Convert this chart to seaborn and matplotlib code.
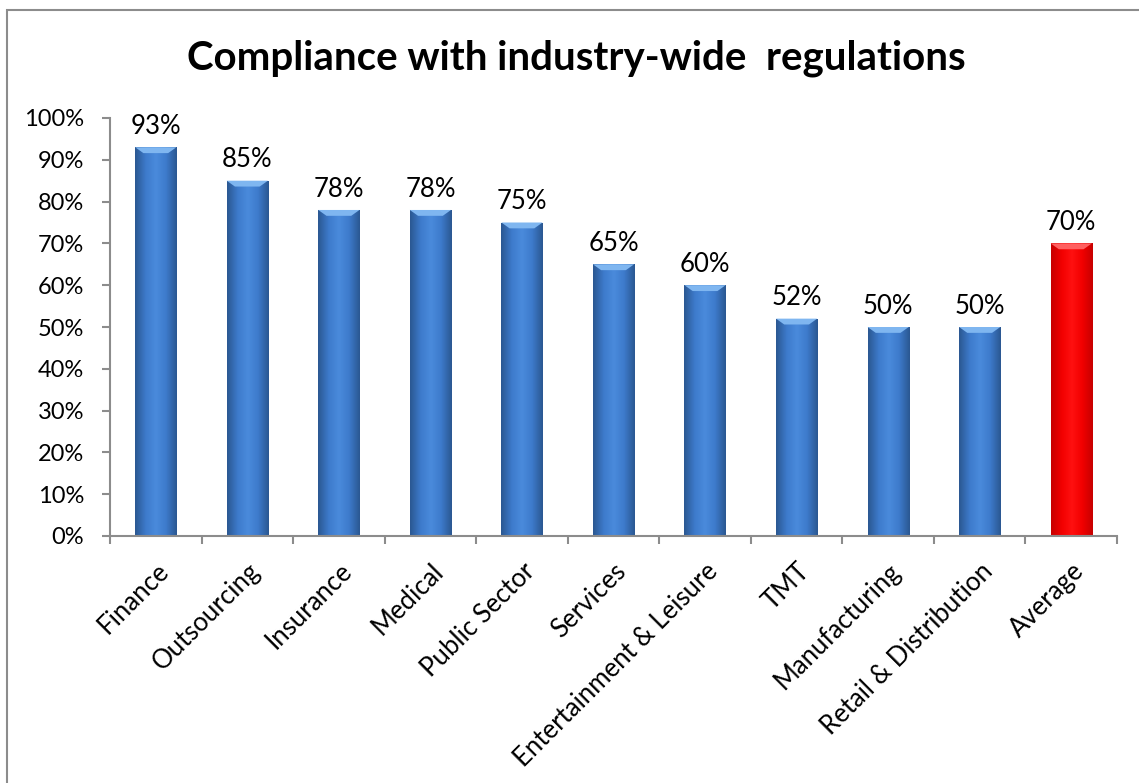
import numpy as np
import pandas as pd
import matplotlib
matplotlib.use("Agg")
import matplotlib.pyplot as plt
import seaborn as sns
from matplotlib.patches import Rectangle
from matplotlib.colors import LinearSegmentedColormap
from matplotlib.ticker import PercentFormatter, MultipleLocator

categories = ["Finance", "Outsourcing", "Insurance", "Medical", "Public Sector",
              "Services", "Entertainment & Leisure", "TMT", "Manufacturing",
              "Retail & Distribution", "Average"]
values = [93, 85, 78, 78, 75, 65, 60, 52, 50, 50, 70]
colors = ["#3a75c4"] * 10 + ["#ff0000"]
title = "Compliance with industry-wide  regulations"

sns.set_theme(style="white")
plt.rcParams["font.family"] = ["Lato", "DejaVu Sans"]
plt.rcParams["text.color"] = "black"
plt.rcParams["xtick.color"] = "black"
plt.rcParams["ytick.color"] = "black"

W, H = 1139, 783
fig = plt.figure(figsize=(W / 100, H / 100), dpi=100)
ax = fig.add_axes([110 / W, 1 - 536 / H, (1117 - 110) / W, (536 - 118) / H])

df = pd.DataFrame({"cat": categories, "val": values})
sns.barplot(data=df, x="cat", y="val", hue="cat", palette=colors, legend=False,
            width=0.45, ax=ax, saturation=1)

grad_blue = LinearSegmentedColormap.from_list("b", ["#2b5892", "#3d7acb", "#4a8bdc", "#3d7acb", "#2b5892"])
grad_red = LinearSegmentedColormap.from_list("r", ["#c80000", "#f20000", "#ff1010", "#f20000", "#c80000"])
g = np.linspace(0, 1, 64).reshape(1, -1)
for i, p in enumerate(ax.patches):
    x0, y0 = p.get_x(), p.get_y()
    w, h = p.get_width(), p.get_height()
    cm = grad_red if i == len(values) - 1 else grad_blue
    im = ax.imshow(g, cmap=cm, extent=[x0, x0 + w, y0, y0 + h], aspect="auto",
                   zorder=p.get_zorder() + 0.1)
    im.set_clip_path(p)
    top = "#7fb6f0" if i < len(values) - 1 else "#ff6060"
    ax.fill([x0, x0 + w, x0 + w * 0.8, x0 + w * 0.2], [y0 + h, y0 + h, y0 + h - 1.4, y0 + h - 1.4],
            color=top, zorder=p.get_zorder() + 0.2, lw=0)
    ax.text(x0 + w / 2, y0 + h + 2.0, f"{values[i]}%", ha="center", va="bottom",
            fontsize=18.5, color="black")

ax.set_xlim(-0.5, len(values) - 0.5)
ax.set_ylim(0, 100)
ax.yaxis.set_major_locator(MultipleLocator(10))
ax.yaxis.set_major_formatter(PercentFormatter(decimals=0))
ax.set_xlabel("")
ax.set_ylabel("")
for s in ["top", "right"]:
    ax.spines[s].set_visible(False)
for s in ["left", "bottom"]:
    ax.spines[s].set_color("#8c8c8c")
    ax.spines[s].set_linewidth(1.5)

ax.set_xticks(np.arange(len(values)))
ax.set_xticklabels(categories, rotation=45, ha="right", rotation_mode="anchor", fontsize=18.5)
ax.tick_params(axis="x", which="major", length=0, pad=16)
ax.set_xticks(np.arange(len(values) + 1) - 0.5, minor=True)
ax.tick_params(axis="x", which="minor", length=5.5, width=1.5, color="#8c8c8c", direction="out", bottom=True)
ax.tick_params(axis="y", length=5.5, width=1.5, color="#8c8c8c", direction="out", left=True,
               labelsize=17, pad=13, labelcolor="black")

fig.text(576 / W, 1 - 58 / H, title, ha="center", va="center", fontsize=29, fontweight="bold",
         color="black")
fig.patches.append(Rectangle((7 / W, -0.1), 1.2, 1 - 10 / H + 0.1, transform=fig.transFigure,
                             fill=False, edgecolor="#8c8c8c", lw=1.5))

fig.savefig("out.png", dpi=100)
